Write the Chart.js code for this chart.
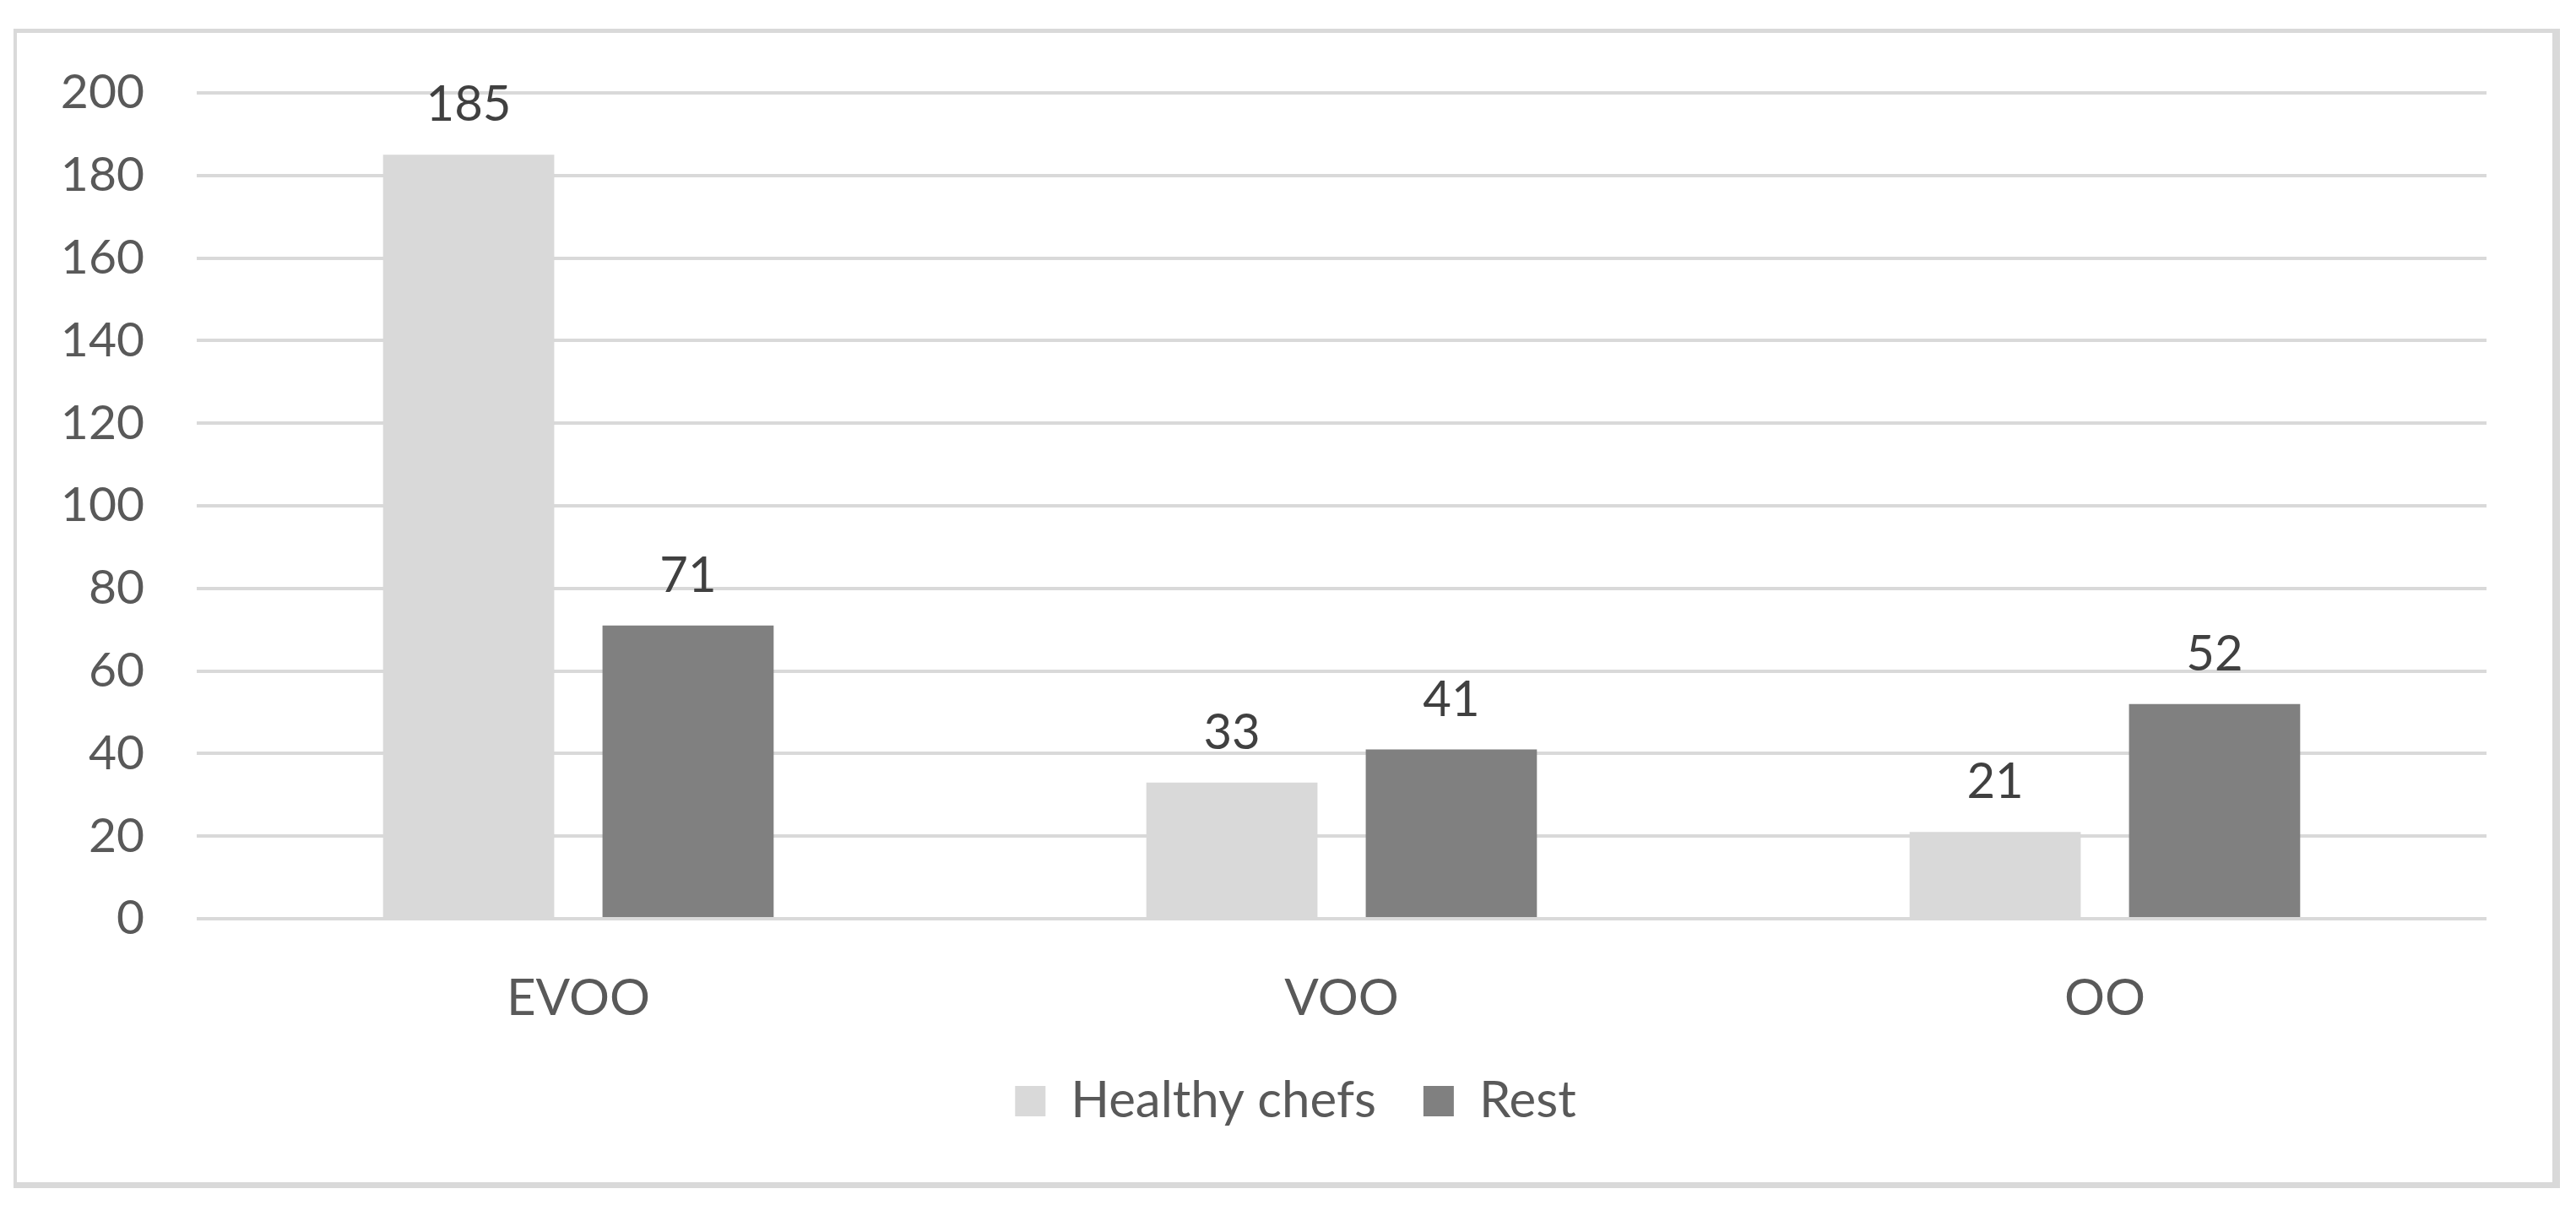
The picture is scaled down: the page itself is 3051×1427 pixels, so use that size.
<!DOCTYPE html>
<html><head><meta charset="utf-8">
<script src="https://cdn.jsdelivr.net/npm/chart.js@4.4.1/dist/chart.umd.min.js"></script>
<style>
html,body{margin:0;padding:0;background:#fff;width:3051px;height:1427px;overflow:hidden}
#frame{position:absolute;left:16px;top:34px;width:3003px;height:1361px;border-style:solid;border-color:#d9d9d9;border-width:5px 9px 7px 4px}
#c{position:absolute;left:0;top:0}
</style></head><body>
<div id="frame"></div>
<canvas id="c" width="3051" height="1427"></canvas>
<script>
const categories = ['EVOO', 'VOO', 'OO'];
const healthyChefs = [185, 33, 21];
const rest = [71, 41, 52];
const seriesNames = ['Healthy chefs', 'Rest'];
const yMin = 0, yMax = 200, yStep = 20;

const FONT = 'Lato';
const valueLabels = {
  id: 'valueLabels',
  afterDatasetsDraw(chart) {
    const ctx = chart.ctx;
    ctx.save();
    ctx.font = '58px ' + FONT;
    ctx.fillStyle = '#404040';
    ctx.textAlign = 'center';
    ctx.textBaseline = 'alphabetic';
    chart.data.datasets.forEach((ds, i) => {
      chart.getDatasetMeta(i).data.forEach((el, j) => {
        ctx.fillText(String(ds.data[j]), el.x, el.y - 40);
      });
    });
    ctx.restore();
  }
};
// nudge the legend block to sit centred like the original
const legendShift = {
  id: 'legendShift',
  afterLayout(chart) {
    if (chart.legend) { chart.legend.left += 62; chart.legend.right += 62; }
  }
};

new Chart(document.getElementById('c'), {
  type: 'bar',
  data: {
    labels: categories,
    datasets: [
      { label: seriesNames[0], data: healthyChefs, backgroundColor: '#d9d9d9', borderWidth: 0 },
      { label: seriesNames[1], data: rest, backgroundColor: '#808080', borderWidth: 0 }
    ]
  },
  options: {
    responsive: false,
    devicePixelRatio: 1,
    animation: false,
    categoryPercentage: 0.575,
    barPercentage: 0.78,
    layout: { padding: { left: 0, top: 110, right: 106, bottom: 83 } },
    plugins: {
      legend: {
        position: 'bottom',
        labels: {
          boxWidth: 36, boxHeight: 36, padding: 56,
          color: '#595959',
          font: { family: FONT, size: 60 }
        }
      },
      tooltip: { enabled: false }
    },
    scales: {
      x: {
        grid: { display: false },
        border: { display: false },
        ticks: { color: '#595959', font: { family: FONT, size: 60 }, padding: 51 },
        afterFit: s => { s.height = 130; }
      },
      y: {
        min: yMin, max: yMax,
        grid: { color: '#d9d9d9', lineWidth: 4, drawTicks: false },
        border: { display: false },
        ticks: { stepSize: yStep, color: '#595959', font: { family: FONT, size: 57 }, padding: 62 },
        afterFit: s => { s.width = 233; }
      }
    }
  },
  plugins: [valueLabels, legendShift]
});
</script>
</body></html>
